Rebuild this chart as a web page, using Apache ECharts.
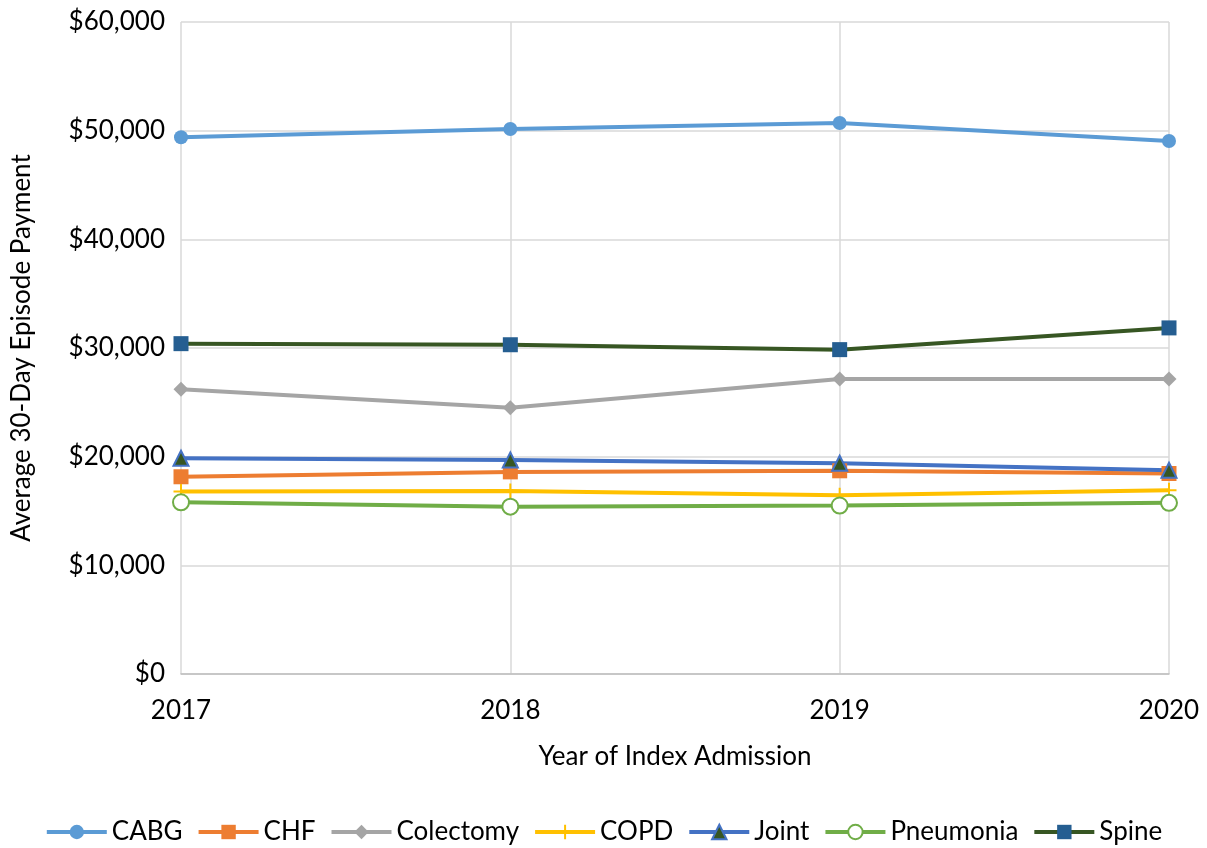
<!DOCTYPE html>
<html>
<head>
<meta charset="utf-8">
<script src="https://cdn.jsdelivr.net/npm/echarts@6/dist/echarts.min.js"></script>
<style>
  html, body { margin: 0; padding: 0; background: #fff; }
  #chart { width: 1207px; height: 848px; }
</style>
</head>
<body>
<div id="chart"></div>
<script>
// years on the x axis
const years = ['2017', '2018', '2019', '2020'];

// average 30-day episode payment
const cabg = [49400, 50150, 50700, 49050];
const chf = [18150, 18600, 18700, 18450];
const colectomy = [26200, 24500, 27150, 27150];
const copd = [16800, 16850, 16450, 16900];
const joint = [19850, 19700, 19400, 18750];
const pneumonia = [15800, 15400, 15500, 15750];
const spine = [30400, 30300, 29850, 31850];

const font = 'Lato, "Noto Sans", sans-serif';

function line(name, data, lineColor, symbol, size, fill, border, bw) {
  return {
    name: name,
    type: 'line',
    data: data,
    symbol: symbol,
    symbolSize: size,
    lineStyle: { color: lineColor, width: 4 },
    itemStyle: { color: fill, borderColor: border || fill, borderWidth: bw || 0 },
    emphasis: { disabled: true },
    z: 2
  };
}

const chart = echarts.init(document.getElementById('chart'));

chart.setOption({
  animation: false,
  backgroundColor: '#ffffff',
  textStyle: { fontFamily: font },
  grid: { left: 181, right: 38, top: 22, bottom: 174, outerBoundsMode: 'none' },
  xAxis: {
    type: 'category',
    data: years,
    boundaryGap: false,
    name: 'Year of Index Admission',
    nameLocation: 'middle',
    nameGap: 70,
    nameTextStyle: { fontSize: 26, color: '#000', fontFamily: font },
    axisLine: { lineStyle: { color: '#bfbfbf', width: 1.5 } },
    axisTick: { show: false },
    axisLabel: { fontSize: 26, color: '#000', margin: 24 },
    splitLine: { show: true, lineStyle: { color: '#d9d9d9', width: 1.5 } }
  },
  yAxis: {
    type: 'value',
    min: 0,
    max: 60000,
    interval: 10000,
    name: 'Average 30-Day Episode Payment',
    nameLocation: 'middle',
    nameGap: 146,
    nameTextStyle: { fontSize: 26, color: '#000', fontFamily: font },
    axisLine: { show: false },
    axisTick: { show: false },
    axisLabel: {
      fontSize: 26,
      color: '#000',
      margin: 16,
      formatter: v => '$' + v.toLocaleString('en-US')
    },
    splitLine: { lineStyle: { color: '#d9d9d9', width: 1.5 } }
  },
  legend: {
    bottom: -2,
    left: 'center',
    itemWidth: 60,
    itemHeight: 18,
    itemGap: 14,
    lineStyle: { width: 4 },
    textStyle: { fontSize: 26, color: '#000', fontFamily: font },
    data: ['CABG', 'CHF', 'Colectomy', 'COPD', 'Joint', 'Pneumonia', 'Spine']
  },
  series: [
    line('CABG', cabg, '#5b9bd5', 'circle', 14, '#5b9bd5'),
    line('CHF', chf, '#ed7d31', 'rect', 15, '#ed7d31'),
    line('Colectomy', colectomy, '#a5a5a5', 'diamond', 15, '#a5a5a5'),
    line('COPD', copd, '#ffc000', 'path://M0,-1 L0,1 M-1,0 L1,0', 15, 'none', '#ffc000', 2),
    line('Joint', joint, '#4472c4', 'triangle', 15, '#375623', '#4472c4', 2),
    line('Pneumonia', pneumonia, '#70ad47', 'emptyCircle', 16, '#70ad47', '#70ad47', 2),
    line('Spine', spine, '#375623', 'rect', 15, '#255e91')
  ]
});
</script>
</body>
</html>
